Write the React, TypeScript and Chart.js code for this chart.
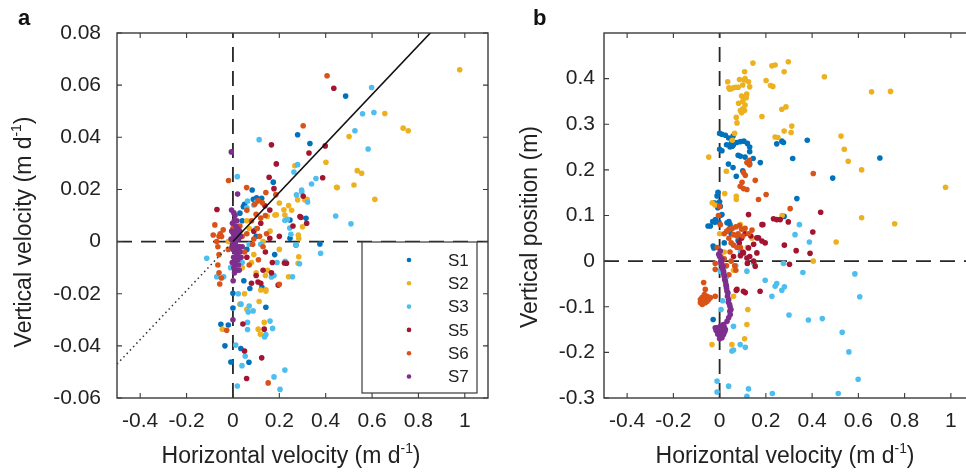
import React, { useEffect, useRef } from 'react';
import { Chart, registerables } from 'chart.js';
Chart.register(...registerables);

type P = [number, number];

const seriesNames = ['S1', 'S2', 'S3', 'S5', 'S6', 'S7'];
const seriesColors = ['#0072BD', '#EDB120', '#4DBEEE', '#A2142F', '#D95319', '#7E2F8E'];

const xTicks = [-0.4, -0.2, 0, 0.2, 0.4, 0.6, 0.8, 1];
const xTickLabels = ['-0.4', '-0.2', '0', '0.2', '0.4', '0.6', '0.8', '1'];
const aYTicks = [-0.06, -0.04, -0.02, 0, 0.02, 0.04, 0.06, 0.08];
const aYTickLabels = ['-0.06', '-0.04', '-0.02', '0', '0.02', '0.04', '0.06', '0.08'];
const bYTicks = [-0.3, -0.2, -0.1, 0, 0.1, 0.2, 0.3, 0.4];
const bYTickLabels = ['-0.3', '-0.2', '-0.1', '0', '0.1', '0.2', '0.3', '0.4'];

const fitSlope = 0.094;

// Panel a: vertical velocity vs horizontal velocity
const aS1: P[] = [[0.486,0.0558],[0.279,0.041],[0.332,0.0376],[0.174,0.0228],[0.083,0.0198],[0.102,0.0168],[0.124,0.0166],[0.088,0.0162],[0.045,0.0134],[0.03,0.0109],[0.05,0.0143],[0.246,0.0083],[0.315,0.0089],[0.272,-0.0013],[0.375,-0.0009],[0.246,0.0013],[0.142,-0.0252],[0.125,-0.0175],[0.047,-0.015],[0.0,-0.0198],[0.0,-0.0255],[-0.052,-0.0317],[-0.02,-0.032],[-0.0345,-0.04],[0.034,-0.041],[0.069,-0.0463],[-0.009,-0.0462],[0.073,-0.018],[0.02,0.005],[0.06,-0.003],[0.1,0.002],[0.01,-0.008],[0.18,-0.005],[0.04,0.008]];
const aS2: P[] = [[0.978,0.0659],[0.655,0.0491],[0.734,0.0435],[0.756,0.0425],[0.501,0.0403],[0.536,0.0272],[0.555,0.0262],[0.522,0.0217],[0.612,0.0162],[0.45,0.0207],[0.267,0.0291],[0.401,0.0304],[0.31,0.016],[0.279,0.016],[0.32,0.0162],[0.447,0.0208],[0.2,0.0148],[0.22,0.0122],[0.253,0.012],[0.24,0.0138],[0.148,0.0096],[0.181,0.0102],[0.224,0.0102],[0.187,0.0103],[0.282,0.0025],[0.3,0.0057],[0.284,0.0012],[0.284,-0.0058],[0.281,-0.0083],[0.24,-0.0135],[0.15,-0.011],[0.14,-0.013],[0.142,-0.019],[0.12,-0.0186],[0.113,-0.023],[0.142,-0.0185],[0.03,-0.024],[0.06,-0.026],[0.05,-0.02],[-0.046,-0.0336],[0.109,-0.0336],[0.135,-0.031],[0.118,-0.0355],[0.07,0.005],[0.09,-0.005],[0.2,-0.003],[0.16,0.004],[0.04,-0.01],[-0.02,0.0],[0.03,0.004],[0.08,-0.008],[0.1,-0.012],[0.06,0.008],[0.13,0.0]];
const aS3: P[] = [[0.598,0.0591],[0.559,0.049],[0.608,0.0495],[0.526,0.0425],[0.583,0.0355],[0.443,0.0098],[0.509,0.0068],[0.113,0.0391],[0.279,0.0295],[0.263,0.0267],[0.358,0.0242],[0.339,0.0221],[0.296,0.0198],[0.274,0.0179],[0.019,0.0249],[0.297,0.019],[0.322,0.0152],[0.101,0.0152],[0.063,0.0155],[0.224,0.0081],[0.06,0.013],[0.09,0.014],[0.235,0.0085],[0.245,0.0052],[0.25,0.0028],[0.07,-0.001],[0.12,-0.001],[0.378,-0.0045],[0.272,-0.0013],[0.287,-0.0085],[0.257,-0.0135],[0.225,-0.0076],[0.19,-0.008],[0.177,-0.013],[0.166,-0.0136],[0.171,-0.0333],[0.224,-0.0493],[0.177,-0.0519],[0.203,-0.0567],[0.019,-0.0554],[0.053,-0.044],[0.039,-0.0476],[0.012,-0.0397],[0.063,-0.031],[0.063,-0.0337],[0.142,-0.0357],[0.136,-0.0366],[0.087,-0.0266],[0.07,-0.0247],[0.023,-0.02],[-0.113,-0.0064],[-0.07,-0.0135],[-0.04,-0.0135],[0.16,-0.0305],[0.035,-0.024],[0.066,-0.027],[0.04,-0.008],[0.1,0.005],[-0.01,-0.01]];
const aS5: P[] = [[0.435,0.0588],[0.166,0.0371],[0.398,0.0367],[0.328,0.034],[0.187,0.0298],[0.387,0.0245],[0.156,0.0247],[0.177,0.0203],[0.303,0.0174],[-0.069,0.0123],[0.138,0.0137],[0.159,0.0121],[0.289,0.0096],[0.318,0.007],[0.293,0.0093],[0.259,0.006],[0.159,0.0013],[0.222,-0.0082],[0.195,-0.0167],[0.231,-0.0083],[0.17,-0.008],[0.166,-0.012],[0.13,-0.011],[0.12,-0.016],[0.08,-0.016],[0.1,-0.013],[0.108,-0.0155],[0.135,-0.0336],[0.043,-0.0316],[0.124,-0.0446],[0.059,-0.0525],[0.05,-0.042],[0.09,0.004],[0.12,0.007],[0.06,-0.006],[0.14,-0.004],[0.2,0.002],[0.03,-0.002]];
const aS6: P[] = [[0.406,0.0636],[0.303,0.0444],[-0.019,0.0234],[0.059,0.0207],[0.142,0.0188],[0.185,0.018],[0.109,0.0157],[0.127,0.0149],[0.094,0.0143],[-0.078,0.0064],[-0.085,0.0025],[-0.042,0.0045],[-0.049,0.0019],[-0.07,0.0],[0.06,0.012],[0.08,0.008],[0.1,0.0105],[0.12,0.009],[0.14,0.01],[0.105,0.005],[0.115,0.002],[0.09,0.001],[0.145,0.003],[0.085,-0.001],[0.13,-0.002],[-0.06,0.002],[-0.055,0.003],[-0.065,-0.002],[-0.06,-0.005],[-0.065,-0.009],[-0.06,-0.012],[-0.057,-0.0163],[-0.05,-0.014],[0.2,-0.0164],[0.152,-0.0542],[-0.027,-0.034],[0.01,0.0],[0.03,0.006],[0.02,-0.006],[0.05,-0.004],[0.07,-0.009],[0.04,0.002],[0.0,0.005],[-0.02,-0.003],[0.11,-0.007],[0.06,0.003]];
const aS7: P[] = [[-0.007,0.0344],[0.02,0.0182],[-0.006,0.0121],[0.001,-0.015],[0.0,-0.03],[0.0,0.0],[0.005,0.002],[0.01,-0.001],[0.015,0.003],[0.02,-0.002],[0.008,-0.004],[0.012,0.006],[-0.005,0.004],[0.003,-0.006],[0.018,-0.005],[0.025,0.001],[0.022,-0.007],[0.006,0.008],[0.014,-0.009],[0.03,-0.004],[-0.004,-0.002],[0.009,0.01],[0.016,-0.011],[0.004,-0.01],[0.028,0.004],[0.035,-0.006],[0.011,0.0],[0.019,0.002],[0.002,0.003],[0.013,-0.003],[0.024,-0.009],[0.007,-0.012],[0.04,-0.002],[-0.002,0.007],[0.017,0.008],[-0.008,0.001],[0.026,-0.003],[0.032,0.002],[0.001,-0.003],[0.021,0.005],[0.009,-0.007],[-0.003,-0.008],[0.027,-0.011],[0.004,0.011],[0.013,0.004]];

// Panel b: vertical position vs horizontal velocity
const bS1: P[] = [[0,0.28],[0.01,0.278],[0.025,0.276],[0.039,0.27],[0.058,0.274],[0.03,0.255],[0.045,0.25],[0.055,0.252],[0.06,0.255],[0.05,0.258],[0.065,0.26],[0.075,0.26],[0.09,0.262],[0.105,0.263],[0.12,0.258],[0.0,0.245],[0.01,0.242],[0.13,0.25],[0.13,0.24],[0.08,0.232],[0.09,0.23],[0.11,0.228],[0.038,0.213],[0.058,0.205],[0.072,0.186],[0.1,0.198],[0.13,0.213],[0.145,0.225],[0.176,0.216],[0.247,0.257],[0.269,0.263],[0.276,0.26],[0.316,0.225],[0.379,0.265],[0.489,0.182],[0.693,0.226],[0.334,0.137],[0.279,0.098],[-0.007,0.151],[-0.011,0.143],[-0.018,0.127],[-0.008,0.117],[0.0,0.13],[0.003,0.12],[0.003,0.1],[-0.003,0.085],[-0.02,0.085],[-0.05,0.077],[-0.03,0.087],[0.04,0.087],[0.045,0.08],[-0.026,0.128],[-0.011,0.124],[0.01,0.102],[0.032,0.084],[-0.04,0.077],[-0.018,0.091],[-0.028,0.033],[-0.025,0.029],[-0.028,-0.128],[0.05,0.06],[0.08,0.045],[0.02,0.04]];
const bS2: P[] = [[0.035,0.393],[0.043,0.377],[0.04,0.38],[0.05,0.378],[0.06,0.38],[0.07,0.381],[0.08,0.381],[0.086,0.398],[0.1,0.386],[0.107,0.397],[0.11,0.4],[0.125,0.393],[0.13,0.382],[0.108,0.415],[0.144,0.434],[0.095,0.362],[0.1,0.35],[0.105,0.358],[0.115,0.358],[0.117,0.366],[0.082,0.346],[0.09,0.33],[0.1,0.334],[0.108,0.33],[0.11,0.342],[0.095,0.325],[0.201,0.396],[0.22,0.385],[0.23,0.383],[0.183,0.317],[0.226,0.428],[0.24,0.43],[0.279,0.415],[0.297,0.437],[0.269,0.333],[0.287,0.338],[0.312,0.296],[0.309,0.282],[0.279,0.285],[0.453,0.404],[0.657,0.371],[0.739,0.372],[0.24,0.272],[0.252,0.271],[0.525,0.274],[0.539,0.245],[0.556,0.219],[0.614,0.2],[0.977,0.162],[0.614,0.095],[0.757,0.082],[-0.047,0.228],[0.029,0.197],[0.072,0.142],[0.072,0.135],[0.022,0.148],[-0.032,0.128],[-0.02,0.123],[0.504,0.042],[0.405,0.0],[0.072,0.315],[0.075,0.303],[0.055,0.265],[0.065,0.28],[0.27,0.1],[0.14,0.05],[0.12,0.03],[0.15,-0.005],[0.06,-0.02],[0.122,-0.106],[0.118,-0.139],[0.108,-0.17],[0.053,-0.183],[-0.033,-0.183],[0.06,-0.077],[0.09,0.08],[0.1,0.07],[0.02,0.02],[0.0,0.06]];
const bS3: P[] = [[0.345,0.08],[0.326,0.058],[0.388,0.042],[0.36,-0.025],[0.276,-0.005],[0.197,-0.042],[0.24,-0.055],[0.247,-0.049],[0.269,-0.064],[0.28,-0.056],[0.226,-0.077],[0.3,-0.118],[0.384,-0.129],[0.444,-0.126],[0.585,-0.028],[0.606,-0.078],[0.53,-0.156],[0.559,-0.199],[0.599,-0.259],[0.228,-0.29],[0.513,-0.29],[-0.011,-0.263],[0.039,-0.274],[-0.011,-0.287],[0.118,-0.296],[0.125,-0.28],[0.053,-0.197],[0.06,-0.195],[0.089,-0.183],[0.111,-0.189],[0.06,-0.143],[0.003,-0.022],[0.006,-0.106],[0.013,-0.087],[0.029,-0.055],[0.029,-0.035],[0.118,-0.022],[0.147,-0.004],[0.025,-0.011],[0.07,-0.01],[0.09,0.02]];
const bS5: P[] = [[0.125,0.102],[0.233,0.093],[0.262,0.091],[0.297,0.086],[0.437,0.107],[0.403,0.064],[0.187,0.08],[0.168,0.051],[0.28,0.035],[0.331,0.023],[0.391,0.017],[0.302,-0.007],[0.072,-0.064],[0.103,-0.066],[0.111,-0.069],[0.175,-0.066],[0.183,0.08],[0.247,0.091],[0.161,0.051],[0.183,0.044],[0.197,0.04],[0.147,0.037],[0.161,0.018],[0.118,0.007],[0.147,0.0],[0.154,-0.011],[0.125,0.029],[0.103,0.018],[0.075,-0.062],[0.085,0.04],[0.095,0.05],[0.11,0.06],[0.135,0.055],[0.1,0.02],[0.12,-0.005],[0.13,0.01],[0.09,0.012],[0.06,0.01]];
const bS6: P[] = [[0.129,0.221],[0.118,0.216],[0.103,0.194],[0.111,0.188],[0.097,0.173],[0.089,0.164],[0.103,0.159],[0.118,0.157],[0.129,0.211],[0.154,0.177],[0.201,0.146],[0.168,0.135],[0.405,0.192],[0.305,0.115],[0.0,0.12],[-0.005,0.1],[0.003,0.08],[0.04,0.07],[0.055,0.072],[0.07,0.075],[0.085,0.078],[0.095,0.07],[0.11,0.072],[0.08,0.06],[0.06,0.058],[0.075,0.055],[0.1,0.055],[0.125,0.06],[0.14,0.068],[0.03,0.065],[0.02,0.06],[0.032,0.066],[0.04,0.05],[0.05,0.04],[0.06,0.035],[0.075,0.03],[0.09,0.03],[0.045,0.02],[0.05,0.0],[0.065,-0.01],[0.07,-0.02],[0.04,-0.03],[0.03,-0.01],[0.01,0.0],[0.02,0.005],[-0.069,-0.047],[-0.062,-0.062],[-0.066,-0.073],[-0.076,-0.08],[-0.083,-0.084],[-0.069,-0.084],[-0.054,-0.088],[-0.083,-0.091],[-0.062,-0.091],[-0.047,-0.084],[-0.054,-0.077],[-0.04,-0.08],[-0.019,-0.077],[-0.075,-0.095],[-0.019,-0.018],[-0.019,-0.005],[0.005,0.01],[-0.01,0.03]];
const bS7: P[] = [[0.0,0.01],[-0.004,0.015],[0.003,0.022],[0.005,0.0],[0.007,-0.005],[0.01,0.004],[0.015,-0.011],[0.017,-0.022],[0.02,-0.033],[0.025,-0.044],[0.029,-0.055],[0.032,-0.066],[0.034,-0.077],[0.039,-0.084],[0.043,-0.095],[0.049,-0.106],[0.046,-0.117],[0.039,-0.124],[0.032,-0.132],[0.017,-0.139],[0.003,-0.143],[-0.011,-0.146],[-0.004,-0.154],[0.01,-0.154],[0.025,-0.15],[0.017,-0.161],[0.003,-0.164],[-0.004,-0.157],[-0.019,-0.146],[0.01,-0.168],[-0.015,-0.152],[0.02,-0.145],[0.005,-0.15],[0.012,-0.158],[-0.008,-0.16],[0.022,-0.155],[0.0,-0.17],[0.015,-0.14],[0.018,-0.028],[0.022,-0.04],[0.027,-0.05],[0.03,-0.06],[0.036,-0.07],[0.038,-0.09],[0.045,-0.1],[0.044,-0.11],[0.012,-0.016],[0.008,-0.008]];

const FONT = '"Liberation Sans", Arial, Helvetica, sans-serif';
const AXIS_COLOR = '#3a3a3a';

type Part = { t: string; sup?: boolean };

function drawRich(ctx: CanvasRenderingContext2D, parts: Part[], size: number, cx: number, by: number) {
  const widths = parts.map((p) => {
    ctx.font = `${p.sup ? size * 0.6 : size}px ${FONT}`;
    return ctx.measureText(p.t).width;
  });
  const total = widths.reduce((a, b) => a + b, 0);
  let x = cx - total / 2;
  ctx.textAlign = 'left';
  ctx.textBaseline = 'alphabetic';
  parts.forEach((p, i) => {
    ctx.font = `${p.sup ? size * 0.6 : size}px ${FONT}`;
    ctx.fillText(p.t, x, p.sup ? by - size * 0.42 : by);
    x += widths[i];
  });
}

const panelPlugin = {
  id: 'panelDecor',
  afterDraw(chart: any, _args: any, opts: any) {
    const { ctx, chartArea } = chart;
    const { left, right, top, bottom } = chartArea;
    const xs = chart.scales.x;
    const ys = chart.scales.y;
    ctx.save();
    if (opts.legend) {
      const lw = 115, lh = 151;
      const lx = right - 11 - lw;
      const ly = bottom - 5 - lh;
      ctx.fillStyle = '#ffffff';
      ctx.fillRect(lx, ly, lw, lh);
      ctx.strokeStyle = AXIS_COLOR;
      ctx.lineWidth = 1.2;
      ctx.strokeRect(lx, ly, lw, lh);
      ctx.font = `17px ${FONT}`;
      ctx.textBaseline = 'middle';
      ctx.textAlign = 'left';
      seriesNames.forEach((name, i) => {
        const cy = ly + 18 + i * 23.3;
        ctx.fillStyle = seriesColors[i];
        ctx.beginPath();
        ctx.arc(lx + 47, cy, 2.3, 0, Math.PI * 2);
        ctx.fill();
        ctx.fillStyle = '#222';
        ctx.fillText(name, lx + 86, cy + 1);
      });
    }
    ctx.strokeStyle = AXIS_COLOR;
    ctx.lineWidth = 1.4;
    ctx.strokeRect(left, top, right - left, bottom - top);
    const tl = 5;
    ctx.beginPath();
    for (const v of opts.xTicks) {
      const px = xs.getPixelForValue(v);
      ctx.moveTo(px, bottom);
      ctx.lineTo(px, bottom - tl);
      ctx.moveTo(px, top);
      ctx.lineTo(px, top + tl);
    }
    for (const v of opts.yTicks) {
      const py = ys.getPixelForValue(v);
      ctx.moveTo(left, py);
      ctx.lineTo(left + tl, py);
      ctx.moveTo(right, py);
      ctx.lineTo(right - tl, py);
    }
    ctx.lineWidth = 1.1;
    ctx.stroke();
    ctx.fillStyle = '#222';
    drawRich(ctx, opts.xTitle, 23, opts.xTitleX, 463);
    ctx.save();
    ctx.translate(opts.yTitleX, opts.yTitleY);
    ctx.rotate(-Math.PI / 2);
    drawRich(ctx, opts.yTitle, 23, 0, 0);
    ctx.restore();
    ctx.font = `bold 22px ${FONT}`;
    ctx.textAlign = 'left';
    ctx.textBaseline = 'alphabetic';
    ctx.fillStyle = '#111';
    ctx.fillText(opts.letter, opts.letterX, 25);
    ctx.restore();
  },
};

function pts(arr: P[]) {
  return arr.map(([x, y]) => ({ x, y }));
}

type PanelProps = {
  series: P[][];
  yMin: number;
  yMax: number;
  yTicks: number[];
  yTickLabels: string[];
  yAxisWidth: number;
  yPad: number;
  rightPad: number;
  width: number;
  fitLine: boolean;
  legend: boolean;
  decor: any;
};

const xMin = -0.5;
const xMax = 1.1;

function Panel(props: PanelProps) {
  const ref = useRef<HTMLCanvasElement | null>(null);
  useEffect(() => {
    if (!ref.current) return;
    const datasets: any[] = props.series.map((s, i) => ({
      type: 'scatter',
      label: seriesNames[i],
      data: pts(s),
      backgroundColor: seriesColors[i],
      borderWidth: 0,
      pointRadius: 2.8,
      order: 6 - i,
    }));
    const lineBase = { type: 'line', pointRadius: 0, fill: false, borderColor: '#262626', order: 10 };
    datasets.push({ ...lineBase, data: [{ x: xMin, y: 0 }, { x: xMax, y: 0 }], borderWidth: 1.8, borderDash: [15, 9] });
    datasets.push({ ...lineBase, data: [{ x: 0, y: props.yMin }, { x: 0, y: props.yMax }], borderWidth: 1.8, borderDash: [15, 9] });
    if (props.fitLine) {
      datasets.push({ ...lineBase, borderColor: '#111', data: [{ x: 0, y: 0 }, { x: xMax, y: xMax * fitSlope }], borderWidth: 1.6, order: 0 });
      datasets.push({ ...lineBase, borderColor: '#333', data: [{ x: xMin, y: xMin * fitSlope }, { x: 0, y: 0 }], borderWidth: 1.5, borderDash: [1.5, 3.2], order: 0 });
    }
    const chart = new Chart(ref.current, {
      type: 'scatter',
      data: { datasets },
      plugins: [panelPlugin],
      options: {
        responsive: false,
        animation: false,
        devicePixelRatio: 1,
        layout: { padding: { top: 33, right: props.rightPad, left: 0, bottom: 0 } },
        plugins: {
          legend: { display: false },
          tooltip: { enabled: false },
          panelDecor: { ...props.decor, yTicks: props.yTicks, xTicks, legend: props.legend },
        } as any,
        scales: {
          x: {
            type: 'linear',
            min: xMin,
            max: xMax,
            grid: { display: false, drawTicks: false },
            border: { display: false },
            afterBuildTicks: (s: any) => { s.ticks = xTicks.map((v) => ({ value: v })); },
            afterFit: (s: any) => { s.height = 75; },
            ticks: {
              padding: 11,
              color: '#222',
              font: { family: FONT, size: 21 },
              callback: (v: any) => { const i = xTicks.findIndex((t) => Math.abs(t - v) < 1e-9); return i >= 0 ? xTickLabels[i] : ''; },
              maxRotation: 0,
              autoSkip: false,
            },
          },
          y: {
            type: 'linear',
            min: props.yMin,
            max: props.yMax,
            grid: { display: false, drawTicks: false },
            border: { display: false },
            afterBuildTicks: (s: any) => { s.ticks = props.yTicks.map((v) => ({ value: v })); },
            afterFit: (s: any) => { s.width = props.yAxisWidth; },
            ticks: {
              padding: props.yPad,
              color: '#222',
              font: { family: FONT, size: 21 },
              callback: (v: any) => { const i = props.yTicks.findIndex((t) => Math.abs(t - v) < 1e-9); return i >= 0 ? props.yTickLabels[i] : ''; },
              autoSkip: false,
            },
          },
        },
      } as any,
    });
    return () => chart.destroy();
  }, []);
  return <canvas ref={ref} width={props.width} height={473} style={{ display: 'block' }} />;
}

export default function App() {
  return (
    <div style={{ position: 'fixed', left: 0, top: 0, width: 966, height: 473, overflow: 'hidden', background: '#fff' }}>
      <div style={{ position: 'absolute', left: 0, top: 0 }}>
        <Panel
          series={[aS1, aS2, aS3, aS5, aS6, aS7]}
          yMin={-0.06}
          yMax={0.08}
          yTicks={aYTicks}
          yTickLabels={aYTickLabels}
          yAxisWidth={117}
          yPad={16}
          rightPad={12}
          width={500}
          fitLine={true}
          legend={true}
          decor={{
            letter: 'a', letterX: 18,
            xTitle: [{ t: 'Horizontal velocity (m d' }, { t: '-1', sup: true }, { t: ')' }], xTitleX: 291,
            yTitle: [{ t: 'Vertical velocity (m d' }, { t: '-1', sup: true }, { t: ')' }], yTitleX: 31, yTitleY: 232,
          }}
        />
      </div>
      <div style={{ position: 'absolute', left: 500, top: 0 }}>
        <Panel
          series={[bS1, bS2, bS3, bS5, bS6, bS7]}
          yMin={-0.3}
          yMax={0.5}
          yTicks={bYTicks}
          yTickLabels={bYTickLabels}
          yAxisWidth={104}
          yPad={9}
          rightPad={16}
          width={490}
          fitLine={false}
          legend={false}
          decor={{
            letter: 'b', letterX: 33,
            xTitle: [{ t: 'Horizontal velocity (m d' }, { t: '-1', sup: true }, { t: ')' }], xTitleX: 285,
            yTitle: [{ t: 'Vertical position (m)' }], yTitleX: 37, yTitleY: 227,
          }}
        />
      </div>
    </div>
  );
}
